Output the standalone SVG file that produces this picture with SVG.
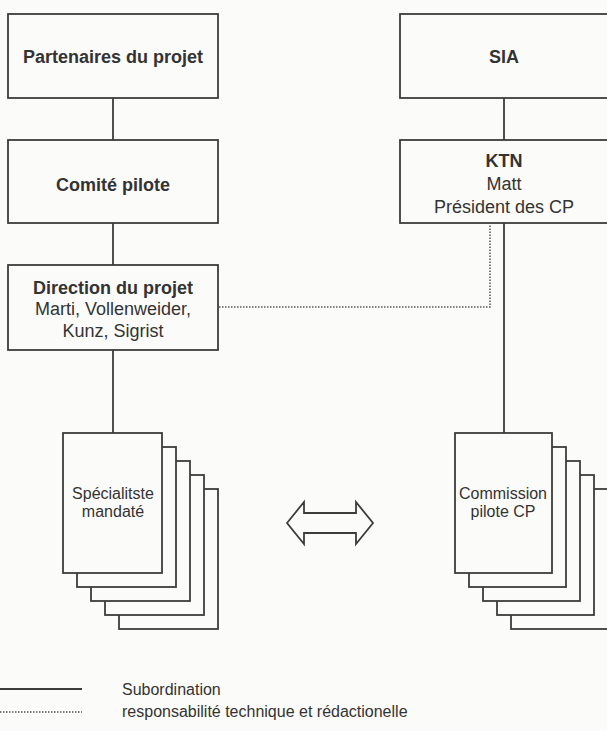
<svg xmlns="http://www.w3.org/2000/svg" width="607" height="731" viewBox="0 0 607 731">
<style>
.box{fill:#fbfbf9;stroke:#3c3c3c;stroke-width:1.8}
.ln{fill:none;stroke:#3c3c3c;stroke-width:1.8}
.dot{fill:none;stroke:#555;stroke-width:1.5;stroke-dasharray:1.5 1.5}
text{font-family:"Liberation Sans",Arial,sans-serif;fill:#333;text-anchor:middle}
.b{font-size:18px;font-weight:bold}
.r{font-size:18px}
.s{font-size:16px}
.lg{font-size:16px;text-anchor:start}
</style>
<rect width="607" height="731" fill="#fbfbf9"/>
<g id="connectors">
<line class="ln" x1="113" y1="98" x2="113" y2="140"/>
<line class="ln" x1="113" y1="223" x2="113" y2="265"/>
<line class="ln" x1="113" y1="350" x2="113" y2="433"/>
<line class="ln" x1="504" y1="98" x2="504" y2="140"/>
<line class="ln" x1="504" y1="223" x2="504" y2="433"/>
<polyline class="dot" points="219,307 490,307 490,224"/>
</g>
<g id="partenaires">
<rect class="box" x="8" y="14" width="210" height="84"/>
<text class="b" x="113" y="63">Partenaires du projet</text>
</g>
<g id="comite">
<rect class="box" x="8" y="140" width="210" height="83"/>
<text class="b" x="113" y="191">Comité pilote</text>
</g>
<g id="direction">
<rect class="box" x="8" y="265" width="210" height="85"/>
<text class="b" x="113" y="294" style="font-weight:bold">Direction du projet</text>
<text class="r" x="113" y="315">Marti, Vollenweider,</text>
<text class="r" x="113" y="337">Kunz, Sigrist</text>
</g>
<g id="sia">
<rect class="box" x="400" y="14" width="215" height="84"/>
<text class="b" x="504" y="63">SIA</text>
</g>
<g id="ktn">
<rect class="box" x="400" y="140" width="215" height="83"/>
<text class="b" x="504" y="167">KTN</text>
<text class="r" x="504" y="190">Matt</text>
<text class="r" x="504" y="213">Président des CP</text>
</g>
<g id="specialiste">
<rect class="box" x="119" y="489" width="99" height="140"/>
<rect class="box" x="105" y="475" width="99" height="140"/>
<rect class="box" x="91" y="461" width="99" height="140"/>
<rect class="box" x="77" y="447" width="99" height="140"/>
<rect class="box" x="63" y="433" width="99" height="140"/>
<text class="s" x="113" y="499">Spécialitste</text>
<text class="s" x="113" y="517">mandaté</text>
</g>
<g id="commission">
<rect class="box" x="511" y="489" width="97" height="140"/>
<rect class="box" x="497" y="475" width="97" height="140"/>
<rect class="box" x="483" y="461" width="97" height="140"/>
<rect class="box" x="469" y="447" width="97" height="140"/>
<rect class="box" x="455" y="433" width="97" height="140"/>
<text class="s" x="503" y="499">Commission</text>
<text class="s" x="503" y="517">pilote CP</text>
</g>
<g id="double-arrow">
<polygon class="ln" points="287,523 304,502 304,513 356,513 356,502 373,523 356,544 356,533 304,533 304,544"/>
</g>
<g id="legend">
<line class="ln" x1="0" y1="689" x2="82" y2="689"/>
<line class="dot" x1="0" y1="712" x2="82" y2="712"/>
<text class="lg" x="122" y="695">Subordination</text>
<text class="lg" x="122" y="717">responsabilité technique et rédactionelle</text>
</g>
</svg>
